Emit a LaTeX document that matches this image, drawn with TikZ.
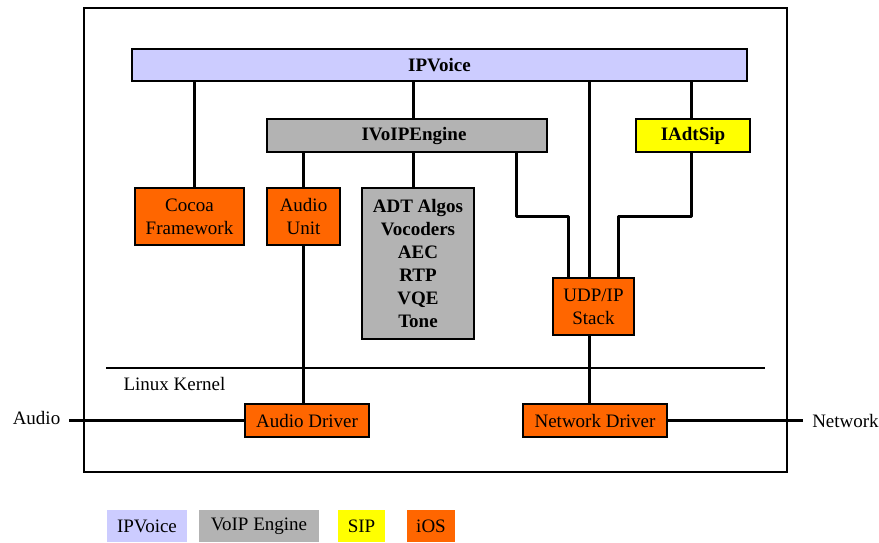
\documentclass[tikz,border=0pt]{standalone}
\usepackage{fontspec}
\setmainfont{Liberation Serif}
\definecolor{ipvc}{HTML}{CCCCFF}
\definecolor{engc}{HTML}{B3B3B3}
\definecolor{sipc}{HTML}{FFFF00}
\definecolor{iosc}{HTML}{FF6600}
\begin{document}
\begin{tikzpicture}[x=1pt,y=-1pt,
  txt/.style={font=\fontsize{19}{23}\selectfont},
  bftxt/.style={font=\fontsize{19}{23}\selectfont\bfseries},
  blk/.style={draw, line width=1.6pt, inner sep=0pt, align=center, txt},
  conn/.style={line width=3pt},
  leg/.style={inner sep=0pt, txt}]
\useasboundingbox (0,0) rectangle (879,542);
\draw[line width=2.2pt] (84,8) rectangle (787,472);
% blocks
\node[blk, fill=ipvc, minimum width=615, minimum height=32, bftxt] (ipv) at (439.5,65) {IPVoice};
\node[blk, fill=engc, minimum width=280, minimum height=33, bftxt] (eng) at (407,135.5) {\hspace*{14pt}IVoIPEngine};
\node[blk, fill=sipc, minimum width=114, minimum height=33, bftxt] (sip) at (693,135.5) {IAdtSip};
\node[blk, fill=iosc, minimum width=109, minimum height=57] (cocoa) at (189.5,216.5) {Cocoa\\Framework};
\node[blk, fill=iosc, minimum width=73, minimum height=57] (au) at (303.5,216.5) {Audio\\Unit};
\node[blk, fill=engc, minimum width=112, minimum height=151, bftxt] (adt) at (418,263.5) {ADT Algos\\Vocoders\\AEC\\RTP\\VQE\\Tone};
\node[blk, fill=iosc, minimum width=81, minimum height=57] (udp) at (593.5,306.5) {UDP/IP\\Stack};
\node[blk, fill=iosc, minimum width=124, minimum height=33] (ad) at (307,420.5) {Audio Driver};
\node[blk, fill=iosc, minimum width=144, minimum height=33] (nd) at (595,420.5) {Network Driver};
% labels
\node[txt, inner sep=0pt] (audio) at (36.5,418) {Audio};
\node[txt, inner sep=0pt] (net) at (845.5,421) {Network};
\node[txt, inner sep=0pt] (lk) at (174.5,384) {Linux Kernel};
\coordinate (kl) at (106,368);
\coordinate (kr) at (765,368);
\draw[line width=1.6pt] (kl) -- (kr);
% connectors
\draw[conn] (ipv.south -| 194,0) -- (cocoa.north -| 194,0);
\draw[conn] (ipv.south -| 413.5,0) -- (eng.north -| 413.5,0);
\draw[conn] (eng.south -| 413.5,0) -- (adt.north -| 413.5,0);
\draw[conn] (eng.south -| au.north) -- (au.north);
\draw[conn] (au.south) -- (ad.north -| au.south);
\draw[conn] (ipv.south -| 589,0) -- (udp.north -| 589,0);
\draw[conn] (ipv.south -| 691,0) -- (sip.north -| 691,0);
\draw[conn, line join=round] (eng.south -| 516,0) |- (568,216) -- (udp.north -| 568,0);
\draw[conn, line join=round] (sip.south -| 691,0) |- (618,216) -- (udp.north -| 618,0);
\draw[conn] (udp.south -| 589,0) -- (nd.north -| 589,0);
\draw[conn] (ad.west -| 69,0) -- (ad.west);
\draw[conn] (nd.east) -- (nd.east -| 803,0);
% legend
\node[leg, fill=ipvc, minimum width=80, minimum height=32] (l1) at (147,526) {IPVoice};
\node[leg, fill=engc, minimum width=120, minimum height=32] (l2) at (259,526) {VoIP Engine};
\node[leg, fill=sipc, minimum width=47, minimum height=32] (l3) at (361.5,526) {SIP};
\node[leg, fill=iosc, minimum width=48, minimum height=32] (l4) at (431,526) {iOS};
\end{tikzpicture}
\end{document}
